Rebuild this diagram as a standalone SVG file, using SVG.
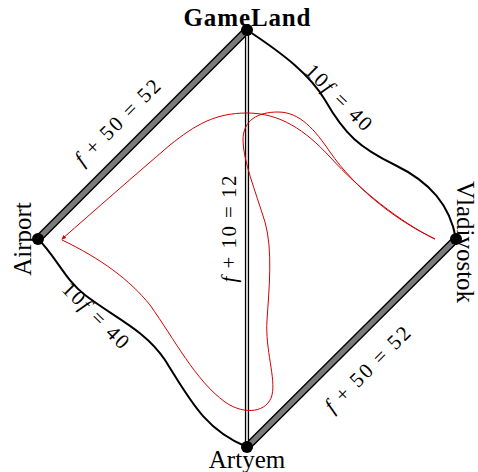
<svg xmlns="http://www.w3.org/2000/svg" width="478" height="472" viewBox="0 0 478 472">
<style>
.lbl{font-family:"Liberation Serif","DejaVu Serif",serif;font-size:25px;fill:#000}
.el{font-family:"Liberation Serif","DejaVu Serif",serif;font-size:21px;fill:#000}
.it{font-style:italic}
.wig{fill:none;stroke:#000;stroke-width:2}
.gout{stroke:#000;stroke-width:8;stroke-linecap:round}
.gin{stroke:#7a7a7a;stroke-width:5.2;stroke-linecap:round}
.red{fill:none;stroke:#d40000;stroke-width:1}
</style>
<defs>
<marker id="ah" viewBox="0 0 10 10" refX="8" refY="5" markerWidth="5" markerHeight="5" orient="auto" markerUnits="userSpaceOnUse">
<path d="M0,1 L10,5 L0,9 z" fill="#d40000"/>
</marker>
</defs>
<g id="connectors">
<g id="e-gameland-airport">
<line class="gout" x1="247" y1="30" x2="38" y2="239"/>
<line class="gin" x1="247" y1="30" x2="38" y2="239"/>
</g>
<g id="e-vladivostok-artyem">
<line class="gout" x1="456" y1="239" x2="247" y2="447"/>
<line class="gin" x1="456" y1="239" x2="247" y2="447"/>
</g>
<g id="e-gameland-artyem">
<line x1="247" y1="30" x2="247" y2="447" stroke="#000" stroke-width="4.2"/>
<line x1="247" y1="30" x2="247" y2="447" stroke="#fff" stroke-width="1.6"/>
</g>
<path id="e-gameland-vladivostok" class="wig" d="M247,30 C285,55 310,75 325,100 C345,135 360,148 395,165 C430,182 450,205 456,239"/>
<path id="e-airport-artyem" class="wig" d="M38,239 C55,255 65,280 85,295 C115,318 145,330 165,360 C190,400 205,430 247,447"/>
<path id="flow" class="red" marker-end="url(#ah)" d="M62,240 C100,258 130,280 150,305 C175,340 195,380 225,402 C245,416 268,412 272,395 C276,378 265,350 267,320 C269,290 273,250 265,222 C255,190 243,160 243,140 C243,120 258,112 278,112 C300,112 315,130 330,152 C355,188 395,220 435,239 C400,222 360,190 330,157 C305,130 280,113 247,113 C215,113 195,125 170,145 C135,175 95,210 62,239"/>
<text class="el" transform="translate(118,123) rotate(-45)" text-anchor="middle" y="6" textLength="112"><tspan class="it">f</tspan> + 50 = 52</text>
<text class="el" transform="translate(368,370) rotate(-45)" text-anchor="middle" y="6" textLength="112"><tspan class="it">f</tspan> + 50 = 52</text>
<text class="el" transform="translate(338,98) rotate(45)" text-anchor="middle" y="6" textLength="85">10<tspan class="it">f</tspan> = 40</text>
<text class="el" transform="translate(95,316) rotate(45)" text-anchor="middle" y="6" textLength="85">10<tspan class="it">f</tspan> = 40</text>
<text class="el" transform="translate(229,229) rotate(-90)" text-anchor="middle" y="7" textLength="107"><tspan class="it">f</tspan> + 10 = 12</text>
</g>
<g id="n-gameland">
<circle cx="247" cy="30" r="6"/>
<text class="lbl" x="247" y="26" text-anchor="middle" font-weight="bold" textLength="127">GameLand</text>
</g>
<g id="n-airport">
<circle cx="38" cy="239" r="6"/>
<text class="lbl" transform="translate(31,239) rotate(-90)" text-anchor="middle" x="0" y="0">Airport</text>
</g>
<g id="n-vladivostok">
<circle cx="456" cy="239" r="6"/>
<text class="lbl" transform="translate(457,242) rotate(90)" text-anchor="middle" x="0" y="0">Vladivostok</text>
</g>
<g id="n-artyem">
<circle cx="247" cy="447" r="6"/>
<text class="lbl" x="247" y="468" text-anchor="middle">Artyem</text>
</g>
</svg>
